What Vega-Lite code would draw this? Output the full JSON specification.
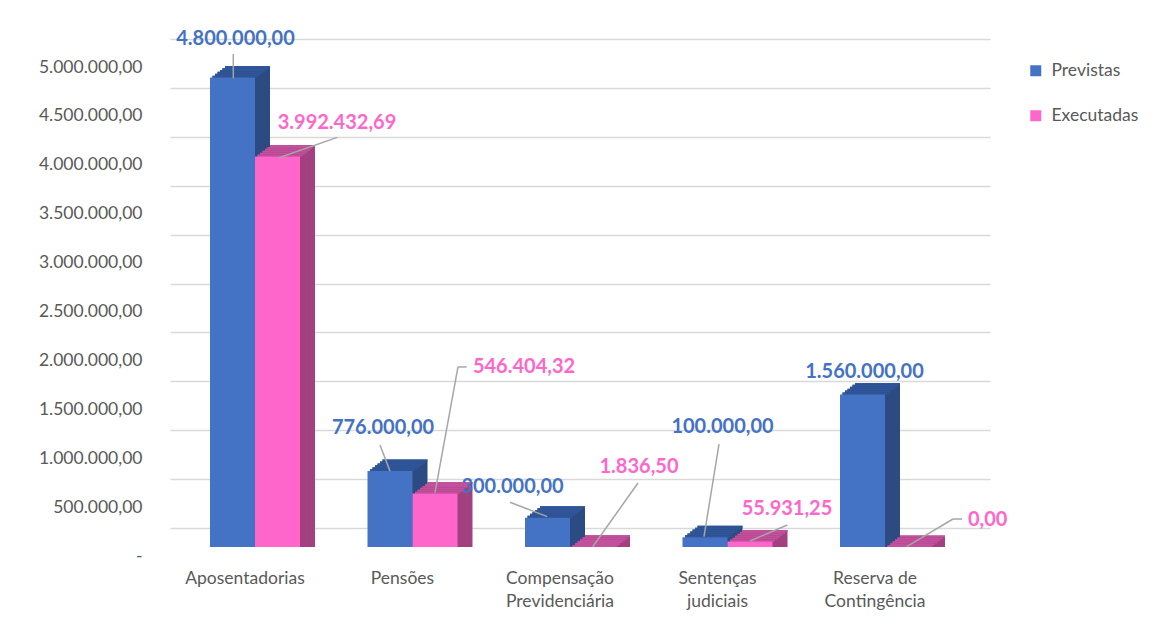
{
  "$schema": "https://vega.github.io/schema/vega-lite/v6.json",
  "width": 820,
  "height": 489,
  "autosize": {"type": "none"},
  "padding": {"left": 170, "top": 58, "right": 176, "bottom": 80},
  "background": "white",
  "config": {
    "font": "Lato",
    "view": {"stroke": null},
    "locale": {"number": {"decimal": ",", "thousands": ".", "grouping": [3], "currency": ["R$", ""]}}
  },
  "data": {"values": [
    {"cat": "Aposentadorias", "series": "Previstas", "value": 4800000},
    {"cat": "Aposentadorias", "series": "Executadas", "value": 3992432.69},
    {"cat": "Pensões", "series": "Previstas", "value": 776000},
    {"cat": "Pensões", "series": "Executadas", "value": 546404.32},
    {"cat": "Compensação Previdenciária", "series": "Previstas", "value": 300000},
    {"cat": "Compensação Previdenciária", "series": "Executadas", "value": 1836.5},
    {"cat": "Sentenças judiciais", "series": "Previstas", "value": 100000},
    {"cat": "Sentenças judiciais", "series": "Executadas", "value": 55931.25},
    {"cat": "Reserva de Contingência", "series": "Previstas", "value": 1560000},
    {"cat": "Reserva de Contingência", "series": "Executadas", "value": 0}
  ]},
  "encoding": {
    "x": {
      "field": "cat", "type": "nominal",
      "sort": ["Aposentadorias", "Pensões", "Compensação Previdenciária", "Sentenças judiciais", "Reserva de Contingência"],
      "scale": {"paddingInner": 0, "paddingOuter": 0.10317, "align": 0.1923},
      "axis": {
        "title": null, "domain": false, "ticks": false, "tickSize": 0, "grid": false,
        "labelPadding": 22, "labelOffset": -10, "labelAngle": 0, "labelFontSize": 17.5,
        "labelColor": "#595959", "labelLineHeight": 23.5, "labelBaseline": "top", "labelOverlap": false,
        "labelExpr": "datum.value === 'Compensação Previdenciária' ? ['Compensação', 'Previdenciária'] : datum.value === 'Sentenças judiciais' ? ['Sentenças', 'judiciais'] : datum.value === 'Reserva de Contingência' ? ['Reserva de', 'Contingência'] : datum.value"
      }
    },
    "y": {
      "field": "value", "type": "quantitative", "stack": null,
      "scale": {"domain": [0, 5000000], "nice": false},
      "axis": {
        "title": null,
        "values": [0, 500000, 1000000, 1500000, 2000000, 2500000, 3000000, 3500000, 4000000, 4500000, 5000000],
        "format": ",.2f",
        "labelExpr": "datum.value === 0 ? '-\u2002' : datum.label",
        "domain": false, "ticks": false, "tickSize": 0,
        "tickOffset": -19, "labelOffset": 28, "labelPadding": 28,
        "labelFontSize": 17.5, "labelColor": "#595959",
        "grid": true, "gridColor": "#D9D9D9", "gridWidth": 1.5
      }
    }
  },
  "layer": [
    {"mark": {"type": "bar", "width": {"band": 0.285714}, "xOffset": {"expr": "(datum.series === 'Previstas' ? -22.5 : 22.5) + 15"}, "yOffset": -11.5, "y2Offset": -11.5},
     "encoding": {"color": {"condition": {"test": "datum.series === 'Previstas'", "value": "#2B4B82"}, "value": "#A3407F"}}},
    {"mark": {"type": "bar", "width": {"band": 0.285714}, "xOffset": {"expr": "(datum.series === 'Previstas' ? -22.5 : 22.5) + 15"}, "yOffset": -11.5, "y2Offset": -9.583},
     "encoding": {"y2": {"field": "value"}, "color": {"condition": {"test": "datum.series === 'Previstas'", "value": "#30569A"}, "value": "#C2509D"}}},
    {"mark": {"type": "bar", "width": {"band": 0.285714}, "xOffset": {"expr": "(datum.series === 'Previstas' ? -22.5 : 22.5) + 12.5"}, "yOffset": -9.583, "y2Offset": -9.583},
     "encoding": {"color": {"condition": {"test": "datum.series === 'Previstas'", "value": "#2B4B82"}, "value": "#A3407F"}}},
    {"mark": {"type": "bar", "width": {"band": 0.285714}, "xOffset": {"expr": "(datum.series === 'Previstas' ? -22.5 : 22.5) + 12.5"}, "yOffset": -9.583, "y2Offset": -7.667},
     "encoding": {"y2": {"field": "value"}, "color": {"condition": {"test": "datum.series === 'Previstas'", "value": "#30569A"}, "value": "#C2509D"}}},
    {"mark": {"type": "bar", "width": {"band": 0.285714}, "xOffset": {"expr": "(datum.series === 'Previstas' ? -22.5 : 22.5) + 10"}, "yOffset": -7.667, "y2Offset": -7.667},
     "encoding": {"color": {"condition": {"test": "datum.series === 'Previstas'", "value": "#2B4B82"}, "value": "#A3407F"}}},
    {"mark": {"type": "bar", "width": {"band": 0.285714}, "xOffset": {"expr": "(datum.series === 'Previstas' ? -22.5 : 22.5) + 10"}, "yOffset": -7.667, "y2Offset": -5.75},
     "encoding": {"y2": {"field": "value"}, "color": {"condition": {"test": "datum.series === 'Previstas'", "value": "#30569A"}, "value": "#C2509D"}}},
    {"mark": {"type": "bar", "width": {"band": 0.285714}, "xOffset": {"expr": "(datum.series === 'Previstas' ? -22.5 : 22.5) + 7.5"}, "yOffset": -5.75, "y2Offset": -5.75},
     "encoding": {"color": {"condition": {"test": "datum.series === 'Previstas'", "value": "#2B4B82"}, "value": "#A3407F"}}},
    {"mark": {"type": "bar", "width": {"band": 0.285714}, "xOffset": {"expr": "(datum.series === 'Previstas' ? -22.5 : 22.5) + 7.5"}, "yOffset": -5.75, "y2Offset": -3.833},
     "encoding": {"y2": {"field": "value"}, "color": {"condition": {"test": "datum.series === 'Previstas'", "value": "#30569A"}, "value": "#C2509D"}}},
    {"mark": {"type": "bar", "width": {"band": 0.285714}, "xOffset": {"expr": "(datum.series === 'Previstas' ? -22.5 : 22.5) + 5"}, "yOffset": -3.833, "y2Offset": -3.833},
     "encoding": {"color": {"condition": {"test": "datum.series === 'Previstas'", "value": "#2B4B82"}, "value": "#A3407F"}}},
    {"mark": {"type": "bar", "width": {"band": 0.285714}, "xOffset": {"expr": "(datum.series === 'Previstas' ? -22.5 : 22.5) + 5"}, "yOffset": -3.833, "y2Offset": -1.917},
     "encoding": {"y2": {"field": "value"}, "color": {"condition": {"test": "datum.series === 'Previstas'", "value": "#30569A"}, "value": "#C2509D"}}},
    {"mark": {"type": "bar", "width": {"band": 0.285714}, "xOffset": {"expr": "(datum.series === 'Previstas' ? -22.5 : 22.5) + 2.5"}, "yOffset": -1.917, "y2Offset": -1.917},
     "encoding": {"color": {"condition": {"test": "datum.series === 'Previstas'", "value": "#2B4B82"}, "value": "#A3407F"}}},
    {"mark": {"type": "bar", "width": {"band": 0.285714}, "xOffset": {"expr": "(datum.series === 'Previstas' ? -22.5 : 22.5) + 2.5"}, "yOffset": -1.917, "y2Offset": 0},
     "encoding": {"y2": {"field": "value"}, "color": {"condition": {"test": "datum.series === 'Previstas'", "value": "#30569A"}, "value": "#C2509D"}}},
    {"mark": {"type": "bar", "width": {"band": 0.285714}, "xOffset": {"expr": "datum.series === 'Previstas' ? -22.5 : 22.5"}},
     "encoding": {"color": {
       "field": "series", "type": "nominal",
       "scale": {"domain": ["Previstas", "Executadas"], "range": ["#4472C4", "#FF66CC"]},
       "legend": {"title": null, "orient": "none", "legendX": 857, "legendY": 4, "symbolType": "square", "symbolSize": 121, "symbolStrokeWidth": 0, "labelFontSize": 17.5, "labelColor": "#595959", "rowPadding": 26, "labelOffset": 7}
     }}},
    {"mark": {"type": "rule", "color": "#A6A6A6", "strokeWidth": 1.5,
      "xOffset": {"expr": "[[-21.7,82.3],[-32.5,45.5],[-60,68],[-8.5,59.8],[0,68]][indexof(['Aposentadorias','Pensões','Compensação Previdenciária','Sentenças judiciais','Reserva de Contingência'], datum.cat)][datum.series === 'Previstas' ? 0 : 1]"},
      "yOffset": {"expr": "[[-23.6,-19.2],[-26.1,-126.6],[-15.4,-63.8],[-93.2,-16.5],[0,-28]][indexof(['Aposentadorias','Pensões','Compensação Previdenciária','Sentenças judiciais','Reserva de Contingência'], datum.cat)][datum.series === 'Previstas' ? 0 : 1]"},
      "x2Offset": {"expr": "[[-21.7,24],[-22.5,22.5],[-22.7,22.7],[-23.5,22.5],[0,21.7]][indexof(['Aposentadorias','Pensões','Compensação Previdenciária','Sentenças judiciais','Reserva de Contingência'], datum.cat)][datum.series === 'Previstas' ? 0 : 1]"},
      "y2Offset": {"expr": "[[0.7,1.2],[0,-0.9],[-1,-0.1],[-0.5,-0.5],[0,-0.3]][indexof(['Aposentadorias','Pensões','Compensação Previdenciária','Sentenças judiciais','Reserva de Contingência'], datum.cat)][datum.series === 'Previstas' ? 0 : 1]"}},
     "encoding": {"x2": {"field": "cat"}, "y2": {"field": "value"}}},
    {"transform": [{"filter": "datum.series === 'Executadas' && (datum.cat === 'Pensões' || datum.cat === 'Reserva de Contingência')"}],
     "mark": {"type": "rule", "color": "#A6A6A6", "strokeWidth": 1.5,
      "xOffset": {"expr": "datum.cat === 'Pensões' ? 45.5 : 68"},
      "x2Offset": {"expr": "datum.cat === 'Pensões' ? 54.2 : 77"},
      "yOffset": {"expr": "datum.cat === 'Pensões' ? -126.6 : -28"},
      "y2Offset": {"expr": "datum.cat === 'Pensões' ? -126.6 : -28"}},
     "encoding": {"x2": {"field": "cat"}, "y2": {"field": "value"}}},
    {"mark": {"type": "text", "fontSize": 20, "fontWeight": "bold", "align": "center", "baseline": "middle",
      "dx": {"expr": "[[-19.5,82],[-29.5,111.5],[-57.5,69],[-5,59.5],[-20.5,102.7]][indexof(['Aposentadorias','Pensões','Compensação Previdenciária','Sentenças judiciais','Reserva de Contingência'], datum.cat)][datum.series === 'Previstas' ? 0 : 1]"},
      "dy": {"expr": "[[-38.6,-33.8],[-42.8,-126.3],[-31,-79.8],[-109.9,-32.2],[-22.2,-27]][indexof(['Aposentadorias','Pensões','Compensação Previdenciária','Sentenças judiciais','Reserva de Contingência'], datum.cat)][datum.series === 'Previstas' ? 0 : 1]"}},
     "encoding": {
       "text": {"field": "value", "type": "quantitative", "format": ",.2f"},
       "color": {"condition": {"test": "datum.series === 'Previstas'", "value": "#4472C4"}, "value": "#FF66CC"}
     }}
  ]
}
